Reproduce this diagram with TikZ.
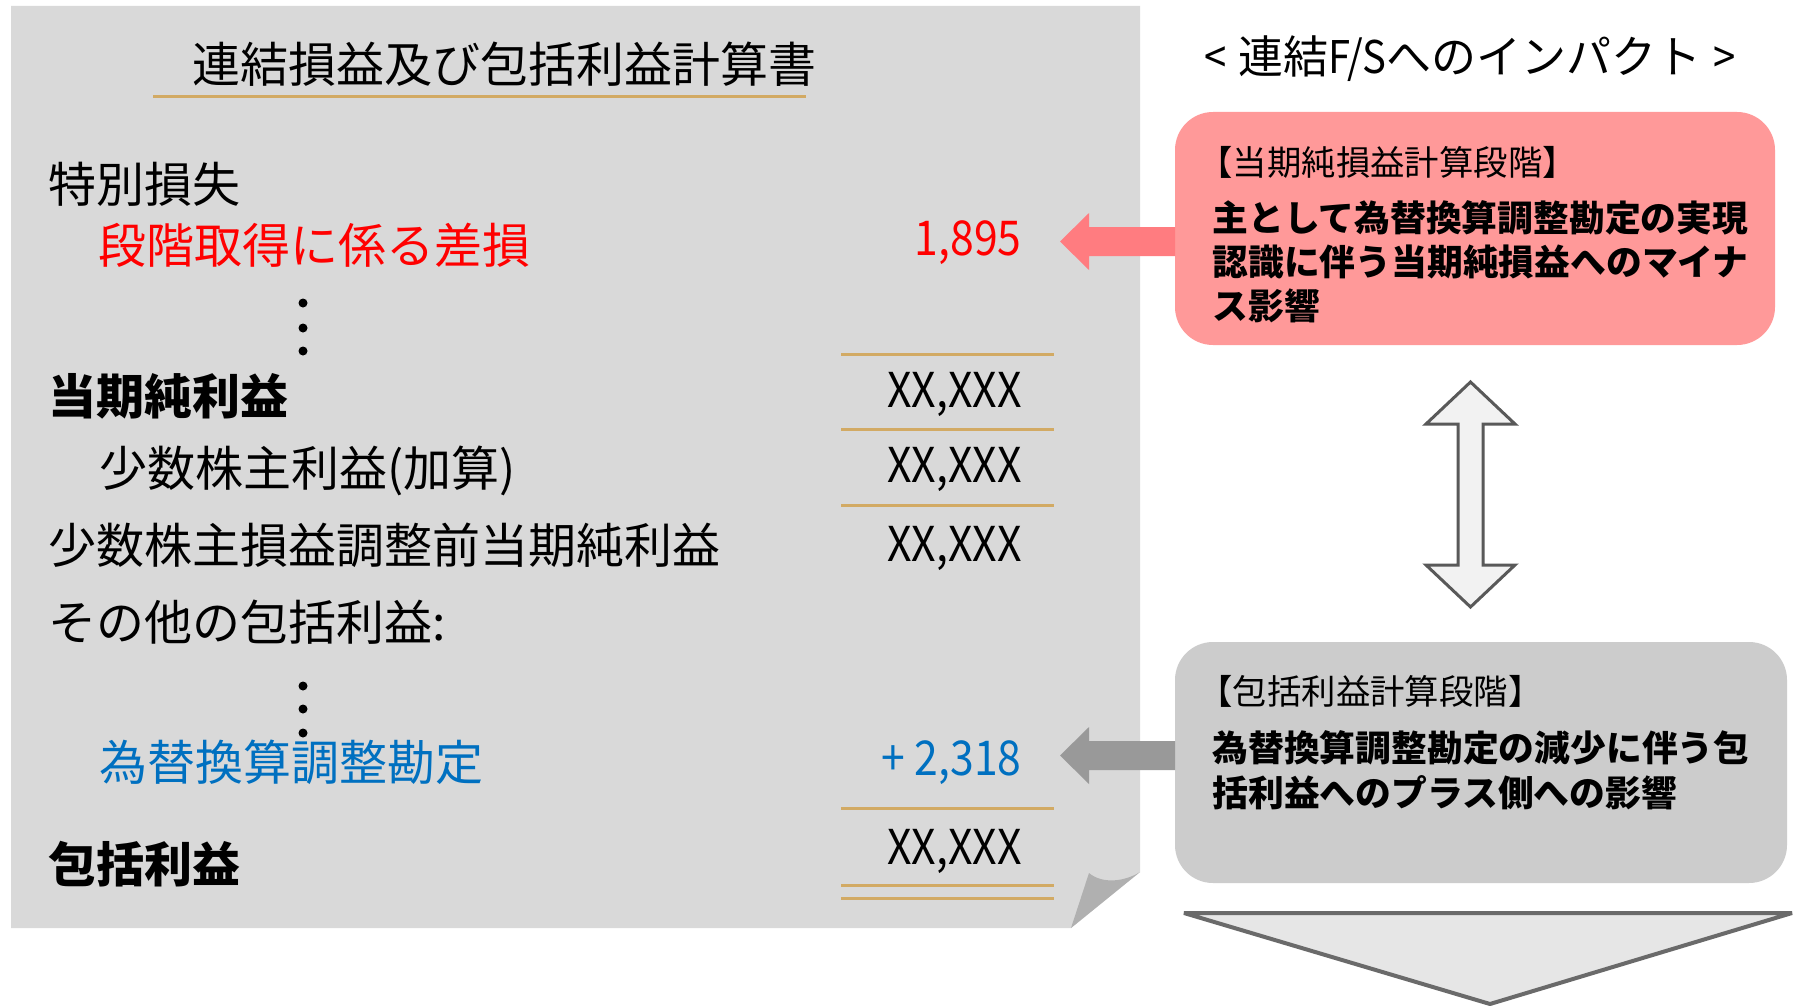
\documentclass[tikz,border=0pt]{standalone}
\usepackage{fontspec}
\setmainfont{Noto Sans CJK JP}
\newfontfamily\narrowfont[FakeStretch=0.89]{Noto Sans CJK JP}
\definecolor{panelgray}{HTML}{D9D9D9}
\definecolor{foldgray}{HTML}{B0B0B0}
\definecolor{ruletan}{RGB}{210,170,100}
\definecolor{redtxt}{HTML}{FF0000}
\definecolor{bluetxt}{HTML}{0070C0}
\definecolor{pinkbox}{HTML}{FF9999}
\definecolor{pinkarrow}{HTML}{FF7C80}
\definecolor{graybox}{HTML}{CCCCCC}
\definecolor{grayarrow}{HTML}{999999}
\definecolor{dblfill}{HTML}{F2F2F2}
\definecolor{dbldraw}{HTML}{595959}
\definecolor{trifill}{HTML}{E6E6E6}
\definecolor{tridraw}{HTML}{6A6A6A}
\begin{document}
\begin{tikzpicture}[x=0.5pt,y=-0.5pt,
  big/.style={inner sep=0pt, font=\fontsize{24}{28}\selectfont},
  lbl/.style={big, anchor=west},
  num/.style={inner sep=0pt, font=\narrowfont\fontsize{24}{28}\selectfont, anchor=base east},
  rulel/.style={draw=ruletan, line width=1.5pt},
  dotc/.style={fill=black},
  hdr/.style={anchor=west, inner sep=0pt, font=\fontsize{17.2}{20}\selectfont},
  bodytxt/.style={anchor=west, inner sep=0pt, font=\fontsize{17.9}{22}\selectfont\bfseries},
  box/.style={rounded corners=19pt}]
\useasboundingbox (0,0) rectangle (1799,1006);
\fill[white] (0,0) rectangle (1799,1006);
% panel
\fill[panelgray] (11,6) -- (1140,6) -- (1140,872) -- (1071,928) -- (11,928) -- cycle;
\fill[foldgray] (1089,873) .. controls (1102,884) and (1124,882) .. (1140,872) -- (1071,928) -- cycle;
% title
\node[big] (title) at (504,64) {連結損益及び包括利益計算書};
\draw[rulel] (153,97) -- (806,97);
% left rows
\node[lbl] (tokubetsu) at (48,184) {特別損失};
\node[lbl, text=redtxt] (dankai) at (98,245) {段階取得に係る差損};
\node[num, text=redtxt] (v1895) at (1022,255) {1,895};
\foreach \yy/\nm in {303/d1,328/d2,351/d3,686/d4,709/d5,733/d6}
  \fill[dotc] (303,\yy) circle (4.5);
\node[lbl, font=\fontsize{24}{28}\selectfont\bfseries] (touki) at (48,396) {当期純利益};
\node[num] (v1) at (1022,407) {XX,XXX};
\node[lbl] (shosu) at (99,471) {少数株主利益(加算)};
\node[num] (v2) at (1022,482) {XX,XXX};
\node[lbl] (shosumae) at (48,545) {少数株主損益調整前当期純利益};
\node[num] (v3) at (1022,561) {XX,XXX};
\node[lbl] (sonota) at (48,622) {その他の包括利益:};
\node[lbl, text=bluetxt] (kawase) at (99,762) {為替換算調整勘定};
\node[num, text=bluetxt] (v2318) at (1022,775) {+ 2,318};
\node[lbl, font=\fontsize{24}{28}\selectfont\bfseries] (hokatsu) at (48,864) {包括利益};
\node[num] (v4) at (1022,864) {XX,XXX};
\foreach \yy in {354,429,505,808,885,898}
  \draw[rulel] (841,\yy) -- (1054,\yy);
% right side
\node[inner sep=0pt, font=\fontsize{22.5}{26}\selectfont] (impact) at (1470,59)
  {{\narrowfont <}\hspace{6pt}連結{\narrowfont F/S}へのインパクト\hspace{6pt}{\narrowfont >}};
\fill[pinkbox, box] (1175,112) rectangle (1775,345);
\node[hdr] (h1) at (1198,162) {【当期純損益計算段階】};
\node[bodytxt] (b11) at (1212,218) {主として為替換算調整勘定の実現};
\node[bodytxt] (b12) at (1212,262) {認識に伴う当期純損益へのマイナ};
\node[bodytxt] (b13) at (1212,306) {ス影響};
\fill[pinkarrow] (1060,241.5) -- (1089,213) -- (1089,227) -- (1175,227) -- (1175,256) -- (1089,256) -- (1089,270) -- cycle;
% double arrow
\filldraw[fill=dblfill, draw=dbldraw, line width=1.5pt, line join=miter]
  (1470.5,382) -- (1515,424) -- (1483,424) -- (1483,565) -- (1515,565) -- (1470.5,607)
  -- (1426,565) -- (1458,565) -- (1458,424) -- (1426,424) -- cycle;
% gray box
\fill[graybox, box] (1175,642) rectangle (1787,883);
\node[hdr] (h2) at (1198,691) {【包括利益計算段階】};
\node[bodytxt] (b21) at (1212,748) {為替換算調整勘定の減少に伴う包};
\node[bodytxt] (b22) at (1212,793) {括利益へのプラス側への影響};
\fill[grayarrow] (1060,755.5) -- (1089,727) -- (1089,741) -- (1175,741) -- (1175,770) -- (1089,770) -- (1089,784) -- cycle;
% bottom triangle
\filldraw[fill=trifill, draw=tridraw, line width=2pt, line join=bevel]
  (1184,913) -- (1792,913) -- (1490,1004) -- cycle;
\end{tikzpicture}
\end{document}
